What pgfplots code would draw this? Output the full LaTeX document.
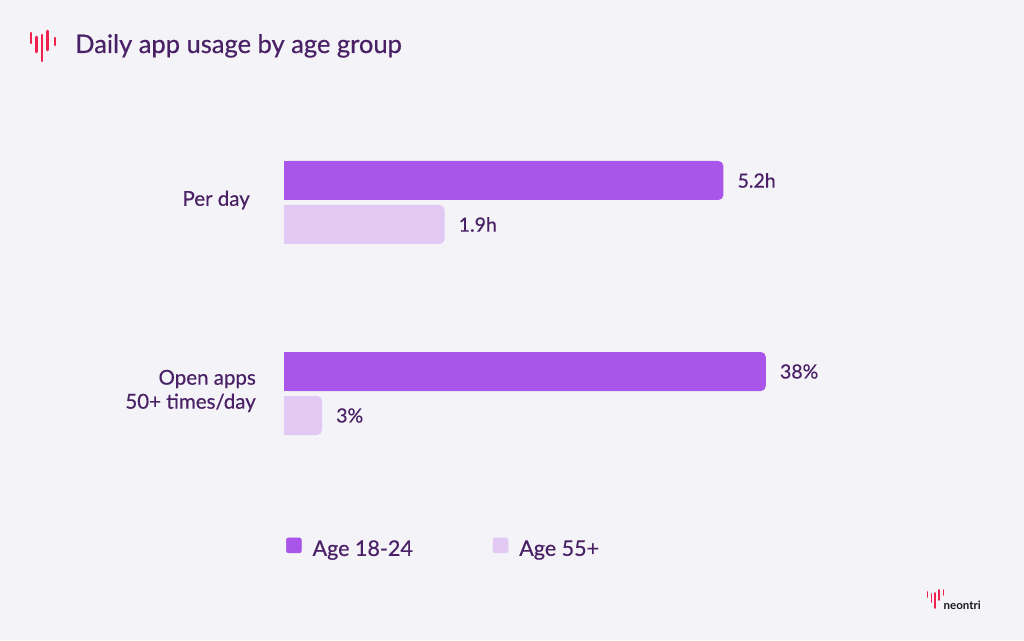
\documentclass[border=0pt]{standalone}
\usepackage{pgfplots}
\pgfplotsset{compat=1.18}
\usepackage{pgfplotstable}
\usepackage{fontspec}
\setmainfont{Lato}[UprightFeatures={FakeBold=0.5}]
\definecolor{bg}{HTML}{F4F3F7}
\definecolor{dark}{HTML}{A955E9}
\definecolor{light}{HTML}{E2C9F3}
\definecolor{txt}{HTML}{4A2167}
\definecolor{logored}{HTML}{F0224D}

\pgfplotstableread{
y v lab
1 5.2 5.2h
}\pdA
\pgfplotstableread{
y v lab
1 1.9 1.9h
}\pdB
\pgfplotstableread{
y v lab
0 38 38\%
}\oaA
\pgfplotstableread{
y v lab
0 3 3\%
}\oaB

\pgfplotsset{
  base/.style={
    scale only axis, width=600pt, height=573pt,
    at={(284pt,55.5pt)}, anchor=south west,
    ymin=-1, ymax=2, xmin=0,
    xbar, bar width=39pt,
    axis line style={draw=none},
    major tick length=0pt, xtick=\empty,
    clip=false,
  },
  lab/.style={
    nodes near coords, point meta=explicit symbolic,
    every node near coord/.append style={font=\fontsize{19.5}{22}\selectfont, text=txt, inner sep=0pt, anchor=west, xshift=14pt},
  },
}

\begin{document}
\begin{tikzpicture}
\fill[bg] (0pt,0pt) rectangle (1024pt,640pt);
% title
\node[anchor=base west, inner sep=0pt, text=txt, font=\fontsize{25.5}{28}\selectfont] at (75pt,587pt) {Daily app usage by age group};
% logo top left
\begin{scope}[line width=2.6pt, line cap=round, draw=logored]
\draw[logored] (31pt,640pt-33pt) -- (31pt,640pt-43pt);
\draw[logored] (36.5pt,640pt-37pt) -- (36.5pt,640pt-52pt);
\draw[logored] (42pt,640pt-35pt) -- (42pt,640pt-61pt);
\draw[logored] (47.5pt,640pt-31pt) -- (47.5pt,640pt-50pt);
\draw[logored] (55pt,640pt-38pt) -- (55pt,640pt-45pt);
\end{scope}
% logo bottom right
\begin{scope}[line width=1.6pt, line cap=round]
\draw[logored] (927.5pt,640pt-592pt) -- (927.5pt,640pt-597pt);
\draw[logored] (931.5pt,640pt-594pt) -- (931.5pt,640pt-602pt);
\draw[logored] (935pt,640pt-593pt) -- (935pt,640pt-608pt);
\draw[logored] (939pt,640pt-590pt) -- (939pt,640pt-600pt);
\draw[logored] (943.5pt,640pt-590pt) -- (943.5pt,640pt-595pt);
\end{scope}
\node[anchor=base west, inner sep=0pt, text=black!90, font=\bfseries\fontsize{11.5}{13}\selectfont] at (943.5pt,640pt-609pt) {neontri};

\begin{axis}[base, xmax=7.1006,
  ytick={0,1},
  yticklabels={{Open apps\\50+ times/day}, {Per day\hspace*{6pt}}},
  yticklabel style={align=right, font=\fontsize{20.5}{24}\selectfont, text=txt, inner sep=0pt, xshift=-28pt, yshift=2.5pt},
  legend columns=2,
  legend cell align=left,
  legend style={at={(0.0033,0.0645)}, anchor=west, draw=none, fill=none, inner sep=0pt,
    font=\fontsize{21.5}{24}\selectfont, text=txt, nodes={inner sep=0pt},
    /tikz/every odd column/.style={column sep=11pt},
    /tikz/every even column/.style={column sep=80pt}},
]
\addplot[fill=dark, draw=none, rounded corners=5pt, bar shift=22pt, lab, forget plot] table[x=v, y=y, meta=lab] {\pdA};
\addplot[fill=dark, draw=none, bar shift=22pt, forget plot] table[x expr=\thisrow{v}/2, y=y] {\pdA};
\addplot[fill=light, draw=none, rounded corners=5pt, bar shift=-22pt, lab, forget plot] table[x=v, y=y, meta=lab] {\pdB};
\addplot[fill=light, draw=none, bar shift=-22pt, forget plot] table[x expr=\thisrow{v}/2, y=y] {\pdB};
\addlegendimage{legend image code/.code={\fill[dark,rounded corners=2pt] (0pt,-4pt) rectangle (15pt,11pt);}}
\addlegendentry{Age 18-24}
\addlegendimage{legend image code/.code={\fill[light,rounded corners=2pt] (0pt,-4pt) rectangle (15pt,11pt);}}
\addlegendentry{Age 55+}
\end{axis}

\begin{axis}[base, xmax=47.32, ytick=\empty]
\addplot[fill=dark, draw=none, rounded corners=5pt, bar shift=22pt, lab] table[x=v, y=y, meta=lab] {\oaA};
\addplot[fill=dark, draw=none, bar shift=22pt] table[x expr=\thisrow{v}/2, y=y] {\oaA};
\addplot[fill=light, draw=none, rounded corners=5pt, bar shift=-22pt, lab] table[x=v, y=y, meta=lab] {\oaB};
\addplot[fill=light, draw=none, bar shift=-22pt] table[x expr=\thisrow{v}/2, y=y] {\oaB};
\end{axis}
\end{tikzpicture}
\end{document}
